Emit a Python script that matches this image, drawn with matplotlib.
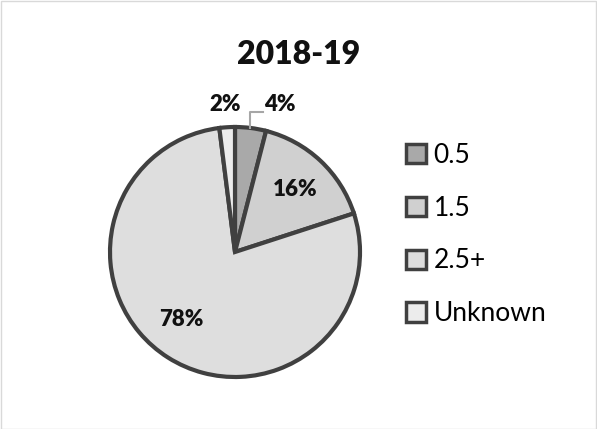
import numpy as np
import matplotlib
matplotlib.use("Agg")
import matplotlib.pyplot as plt
from matplotlib.patches import Patch, Rectangle

title = "2018-19"
categories = ["0.5", "1.5", "2.5+", "Unknown"]
shares = [4, 16, 78, 2]
labels = ["4%", "16%", "78%", "2%"]
colors = ["#a9a9a9", "#d0d0d0", "#dedede", "#ececec"]
edge = "#404040"

plt.rcParams["font.family"] = ["Lato", "DejaVu Sans"]

W, H = 597, 429
fig = plt.figure(figsize=(W / 100, H / 100), dpi=100)
fig.patch.set_facecolor("white")
fig.patches.append(Rectangle((0.5 / W, 0.5 / H), 1 - 1.5 / W, 1 - 1.5 / H,
                             transform=fig.transFigure, fill=False,
                             edgecolor="#d9d9d9", lw=1))

# pie axes: centre (235, 252) px, radius 125 px
cx, cy, r = 235, 252, 125
ax = fig.add_axes([(cx - r) / W, (H - cy - r) / H, 2 * r / W, 2 * r / H])
wedges, _ = ax.pie(shares, colors=colors, startangle=90, counterclock=False,
                   radius=1, wedgeprops=dict(edgecolor=edge, linewidth=3))
ax.set_xlim(-1, 1)
ax.set_ylim(-1, 1)
ax.set_aspect("equal")
ax.axis("off")

# label placement (data units, relative to radius)
label_pos = {
    "4%": (0.36, 1.18),
    "16%": (0.48, 0.50),
    "78%": (-0.43, -0.54),
    "2%": (-0.08, 1.18),
}
for lab in labels:
    x, y = label_pos[lab]
    ax.text(x, y, lab, ha="center", va="center", fontsize=16,
            fontweight="heavy", color="#111111", clip_on=False)

# leader line for the 4% slice
ax.plot([0.12, 0.12, 0.225], [0.99, 1.12, 1.12], color="#a6a6a6",
        lw=1.5, clip_on=False)

fig.text(299 / W, 1 - 54 / H, title, ha="center", va="center",
         fontsize=23, fontweight="heavy", color="#111111")

handles = [Patch(facecolor=c, edgecolor=edge, linewidth=2.5) for c in colors]
fig.legend(handles, categories, loc="upper left",
           bbox_to_anchor=(406 / W, 1 - 143 / H), frameon=False,
           fontsize=19, handlelength=0.75, handleheight=0.75,
           handletextpad=0.3, labelspacing=1.05, borderaxespad=0,
           borderpad=0)

fig.savefig("out.png", dpi=100)
